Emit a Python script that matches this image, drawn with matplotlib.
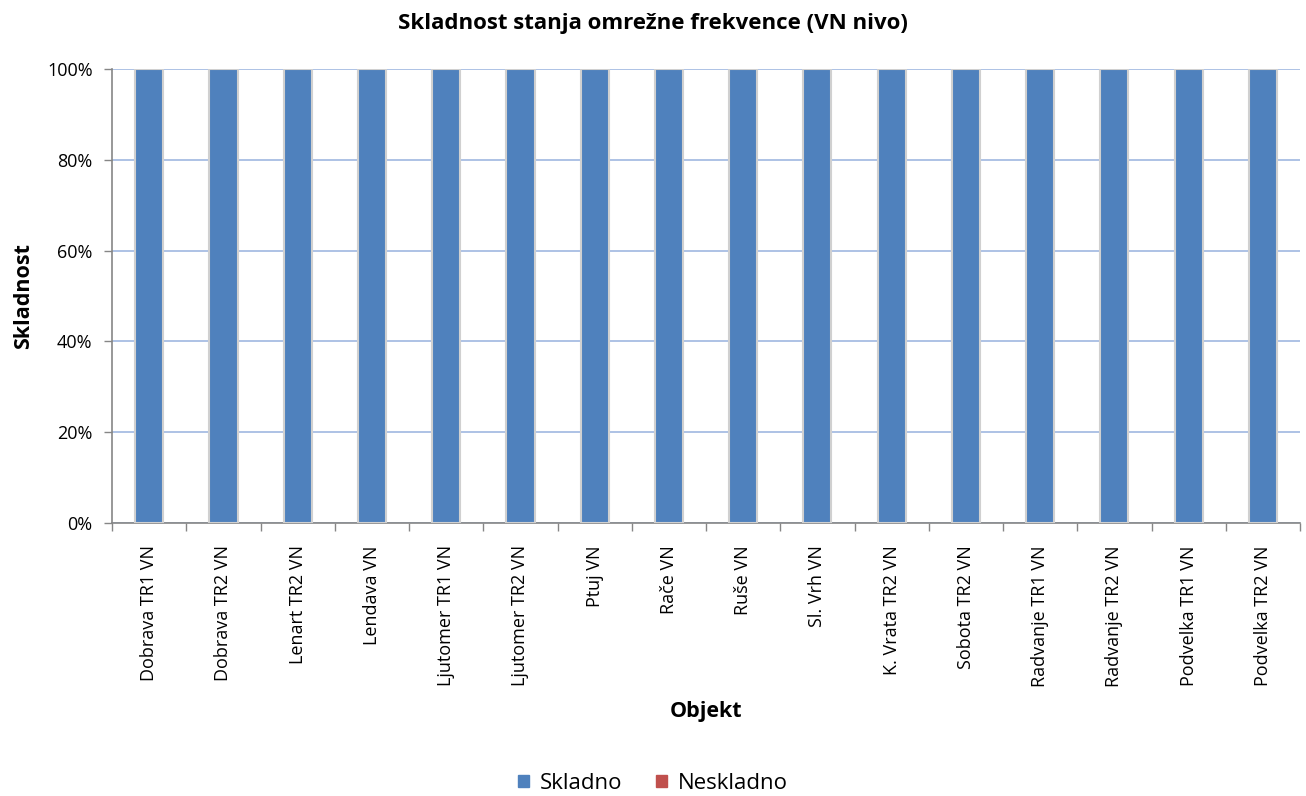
import matplotlib
matplotlib.use("Agg")
import matplotlib.pyplot as plt
import numpy as np
from matplotlib.patches import Patch
from matplotlib.ticker import FuncFormatter, FixedLocator

# data
objekti = ["Dobrava TR1 VN", "Dobrava TR2 VN", "Lenart TR2 VN", "Lendava VN",
           "Ljutomer TR1 VN", "Ljutomer TR2 VN", "Ptuj VN", "Rače VN", "Ruše VN",
           "Sl. Vrh VN", "K. Vrata TR2 VN", "Sobota TR2 VN", "Radvanje TR1 VN",
           "Radvanje TR2 VN", "Podvelka TR1 VN", "Podvelka TR2 VN"]
skladno = [100, 100, 100, 100, 100, 100, 100, 100, 100, 100, 100, 100, 100, 100, 100, 100]
neskladno = [0, 0, 0, 0, 0, 0, 0, 0, 0, 0, 0, 0, 0, 0, 0, 0]

plt.rcParams['font.family'] = ['Open Sans', 'DejaVu Sans']

fig = plt.figure(figsize=(13.06, 7.96), dpi=100)
ax = fig.add_axes([0.0858, 0.343, 0.9096, 0.5704])

x = np.arange(len(objekti))
ax.bar(x, skladno, width=0.38, color='#4f81bd', edgecolor='#d0d0d0', linewidth=1.5, zorder=3)
# Neskladno is 0 everywhere; stacked on top it draws nothing
ax.bar(x, neskladno, width=0.38, bottom=skladno, color='#c0504d', linewidth=0, zorder=3)

ax.set_xlim(-0.5, len(objekti) - 0.5)
ax.set_ylim(0, 100)
ax.yaxis.set_major_locator(FixedLocator([0, 20, 40, 60, 80, 100]))
ax.yaxis.set_major_formatter(FuncFormatter(lambda v, p: "%d%%" % v))
ax.grid(axis='y', color='#a7bde3', linewidth=1.3, zorder=0)
ax.set_axisbelow(True)

ax.set_xticks(x)
ax.set_xticklabels(objekti, rotation=90, fontsize=13)
ax.tick_params(axis='x', length=0, pad=16)
ax.set_xticks(np.arange(-0.5, len(objekti)), minor=True)
ax.tick_params(axis='x', which='minor', length=6, color='#868686', width=1)
ax.tick_params(axis='y', length=6, color='#868686', width=1, labelsize=13, pad=8)

for s in ['top', 'right']:
    ax.spines[s].set_visible(False)
for s in ['left', 'bottom']:
    ax.spines[s].set_color('#868686')
    ax.spines[s].set_linewidth(1.2)

fig.suptitle("Skladnost stanja omrežne frekvence (VN nivo)", fontsize=16, fontweight='bold',
             x=0.5, y=0.984)
ax.set_ylabel("Skladnost", fontsize=15.5, fontweight='bold', labelpad=9)
ax.set_xlabel("Objekt", fontsize=15.5, fontweight='bold', labelpad=10)

handles = [Patch(color='#4f81bd', label='Skladno'), Patch(color='#c0504d', label='Neskladno')]
fig.legend(handles=handles, loc='center', bbox_to_anchor=(0.5, 0.016), ncol=2, frameon=False,
           fontsize=16, handlelength=0.5, handleheight=0.5, handletextpad=0.5, columnspacing=1.5)

fig.savefig("out.png", dpi=100)
